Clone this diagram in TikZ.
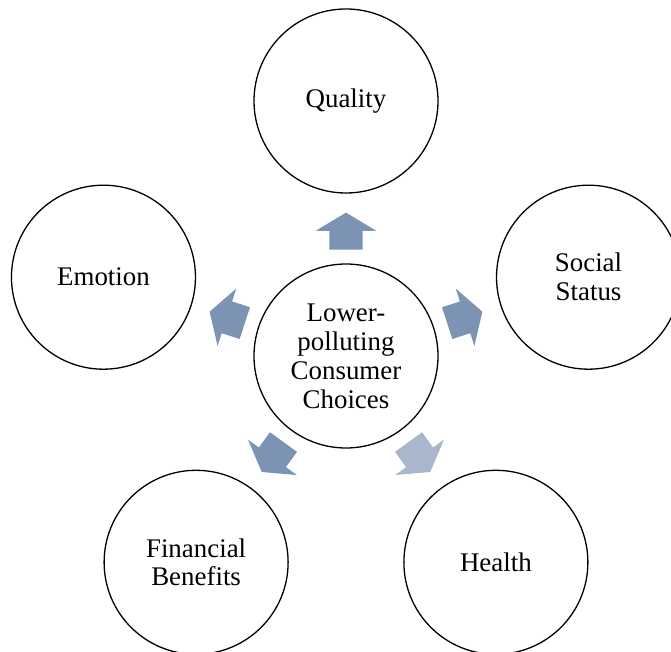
\documentclass[tikz,border=0pt]{standalone}
\usepackage{fontspec}
\setmainfont{Liberation Serif}
\usetikzlibrary{shapes.arrows,calc}
\definecolor{slate}{HTML}{7D93B3}
\definecolor{paleslate}{HTML}{A9B6CB}
\tikzset{
  bubble/.style={draw=black, circle, line width=1.3bp, minimum size=184bp, inner sep=0pt, align=center, font=\fontsize{27}{29}\selectfont},
  hint/.style={single arrow, fill=slate, draw=none, inner xsep=0pt, inner ysep=16.5bp, minimum height=37bp,
    single arrow head extend=13.5bp, single arrow tip angle=118},
}

\begin{document}
\begin{tikzpicture}[x=1bp, y=1bp]
\useasboundingbox (-346,-296) rectangle (325,356);
% hub and the five drivers around it
\node[bubble] (hub) at (0,0) {Lower-\\polluting\\Consumer\\Choices};
\node[bubble] (quality) at (90:255bp) {Quality};
\node[bubble] (status) at (18:255bp) {Social\\Status};
\node[bubble] (health) at (-54:255bp) {Health};
\node[bubble] (money) at (234:255bp) {Financial\\Benefits};
\node[bubble] (emotion) at (162:255bp) {Emotion};
% block arrows, a little short of half way out
\node[hint, rotate=90] (toquality) at ($(hub)!.47!(quality)$) {};
\node[hint, rotate=18] (tostatus) at ($(hub)!.47!(status)$) {};
\node[hint, rotate=-54, fill=paleslate] (tohealth) at ($(hub)!.47!(health)$) {};
\node[hint, rotate=234] (tomoney) at ($(hub)!.47!(money)$) {};
\node[hint, rotate=162] (toemotion) at ($(hub)!.47!(emotion)$) {};
\end{tikzpicture}
\end{document}
